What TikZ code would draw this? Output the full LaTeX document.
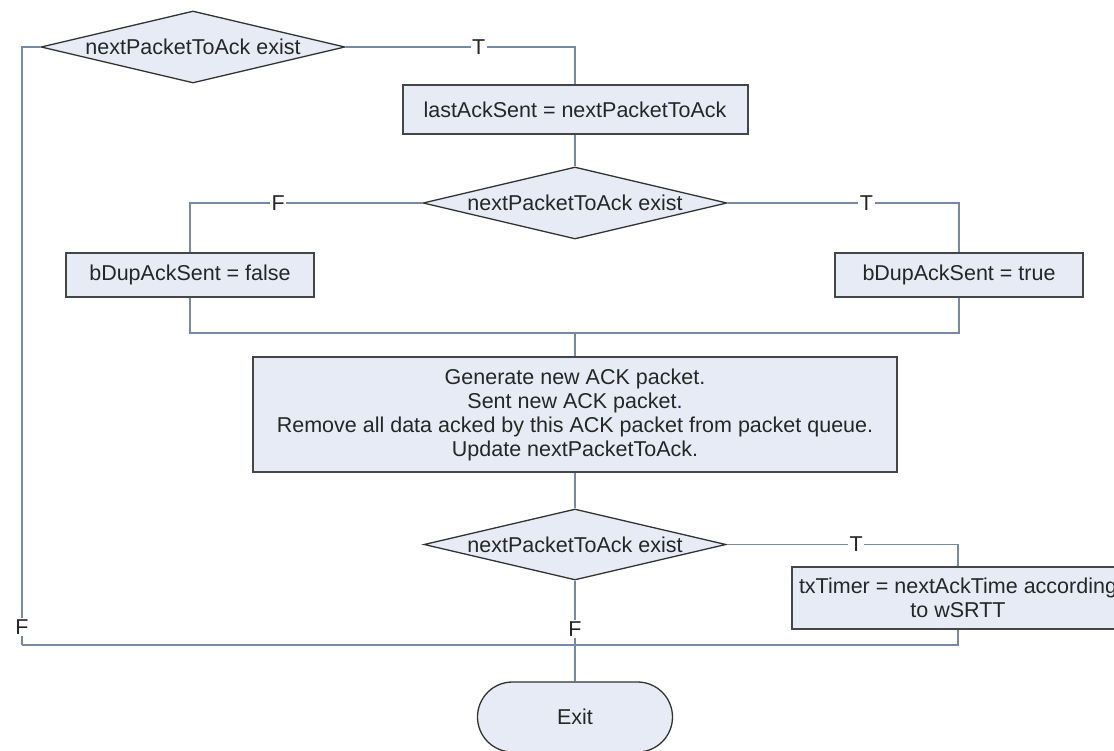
\documentclass[tikz,border=0pt]{standalone}
\usepackage{fontspec}
\setmainfont{Liberation Sans}
\usetikzlibrary{shapes.geometric}
\definecolor{boxfill}{RGB}{231,235,246}
\definecolor{boxline}{RGB}{70,70,70}
\definecolor{connline}{RGB}{118,138,165}
\tikzset{
  base/.style={font=\fontsize{21.5}{24}\selectfont, text=black!85},
  process/.style={base, draw=boxline, line width=2pt, fill=boxfill, inner sep=0pt, align=center},
  decision/.style={base, diamond, draw=black!80, line width=1.3pt, fill=boxfill, inner sep=0pt},
  terminal/.style={base, draw=black!80, line width=1.3pt, fill=boxfill, rounded corners=35pt, inner sep=0pt},
  conn/.style={draw=connline, line width=1.4pt},
  lab/.style={base, fill=white, inner sep=1.5pt}
}
\newcommand{\dtext}[1]{\makebox[0pt]{#1}}
\begin{document}
\begin{tikzpicture}[x=1pt,y=-1pt]
\path[use as bounding box, fill=white] (0,0) rectangle (1114,751);
\clip (0,0) rectangle (1114,751);
% nodes
\node[decision, minimum width=304pt, minimum height=72pt] (d1) at (193,47) {\dtext{nextPacketToAck exist}};
\node[process, minimum width=345pt, minimum height=49pt] (b1) at (575,109.5) {lastAckSent = nextPacketToAck};
\node[decision, minimum width=304pt, minimum height=72pt] (d2) at (575,203) {\dtext{nextPacketToAck exist}};
\node[process, minimum width=248pt, minimum height=44pt] (bf) at (190,275) {bDupAckSent = false};
\node[process, minimum width=248pt, minimum height=44pt] (bt) at (959,275) {bDupAckSent = true};
\node[process, minimum width=644pt, minimum height=115pt] (big) at (575,414.5) {Generate new ACK packet.\\Sent new ACK packet.\\Remove all data acked by this ACK packet from packet queue.\\Update nextPacketToAck.};
\node[decision, minimum width=302pt, minimum height=71pt] (d3) at (575,544.5) {\dtext{nextPacketToAck exist}};
\node[process, minimum width=332pt, minimum height=62pt] (tx) at (958,598) {txTimer = nextAckTime according\\to wSRTT};
\node[terminal, minimum width=195pt, minimum height=70pt] (exit) at (575,717) {Exit};
\coordinate (m) at (575,333);
\coordinate (j) at (575,645);
\coordinate (c) at (22,645);
% connectors
\draw[conn] (d1.east) -| node[lab, pos=0.29] {T} (b1.north);
\draw[conn] (b1.south) -- (d2.north);
\draw[conn] (d2.west) -| node[lab, pos=0.31] {F} (bf.north);
\draw[conn] (d2.east) -| node[lab, pos=0.30] {T} (bt.north);
\draw[conn] (bf.south) |- (m) -| (bt.south);
\draw[conn] (m) -- (big.north);
\draw[conn] (big.south) -- (d3.north);
\draw[conn] (d3.east) -| node[lab, pos=0.28] {T} (tx.north);
\draw[conn] (d3.south) -- node[lab, pos=0.75] {F} (j);
\draw[conn] (tx.south) |- (j);
\draw[conn] (d1.west) -| node[lab, pos=0.985] {F} (c);
\draw[conn] (c) -- (j);
\draw[conn] (j) -- (exit.north);
\end{tikzpicture}
\end{document}
